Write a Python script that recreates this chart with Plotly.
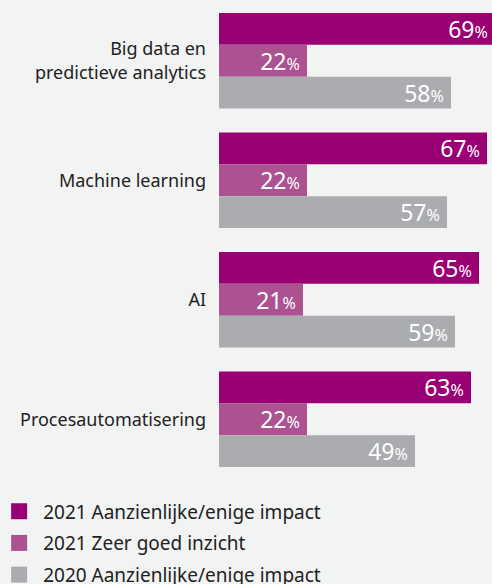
import plotly.graph_objects as go

categories = ["Big data en<br>predictieve analytics", "Machine learning", "AI", "Procesautomatisering"]
series_names = ["2021 Aanzienlijke/enige impact", "2021 Zeer goed inzicht", "2020 Aanzienlijke/enige impact"]
impact_2021 = [69, 67, 65, 63]
inzicht_2021 = [22, 22, 21, 22]
impact_2020 = [58, 57, 59, 49]
colors = ["#990073", "#ac5290", "#abacb0"]

def labels(vals):
    return [f"{v}<span style='font-size:16px'>%&nbsp;</span>" for v in vals]

fig = go.Figure()
for name, vals, col in zip(series_names, [impact_2021, inzicht_2021, impact_2020], colors):
    fig.add_trace(go.Bar(
        y=categories, x=vals, orientation="h", name=name,
        marker=dict(color=col, line=dict(width=0)),
        text=labels(vals), textposition="inside", insidetextanchor="end",
        constraintext="none",
        textfont=dict(color="white", size=23, family="Noto Sans"),
        showlegend=False, hoverinfo="skip",
    ))
for i, (name, col) in enumerate(zip(series_names, colors)):
    fig.add_trace(go.Scatter(
        x=[None], y=[None], mode="markers", name=name, legendgroup=f"g{i}",
        marker=dict(symbol="square", size=16, color=col),
    ))

fig.update_layout(
    width=492, height=584,
    margin=dict(l=219, r=0, t=1, b=105, autoexpand=False),
    paper_bgcolor="#f2f3f3", plot_bgcolor="#f2f3f3",
    barmode="group", bargap=0.2, bargroupgap=0,
    font=dict(family="Noto Sans", color="#222222"),
    uniformtext=dict(mode=False),
    xaxis=dict(range=[0, 68.25], visible=False, fixedrange=True),
    yaxis=dict(autorange="reversed", showgrid=False, zeroline=False, showline=False,
               ticks="", tickfont=dict(size=18, color="#222222"), ticklabelstandoff=12,
               fixedrange=True),
    legend=dict(x=-0.82, xanchor="left", y=-0.028, yanchor="top",
                font=dict(size=19, color="#222222"), tracegroupgap=4, itemwidth=38,
                itemsizing="trace", bgcolor="rgba(0,0,0,0)"),
)
fig.write_html(
    "out.html",
    config={"displayModeBar": False},
    post_script="document.body.style.margin='0';document.body.style.background='#f2f3f3';",
)
